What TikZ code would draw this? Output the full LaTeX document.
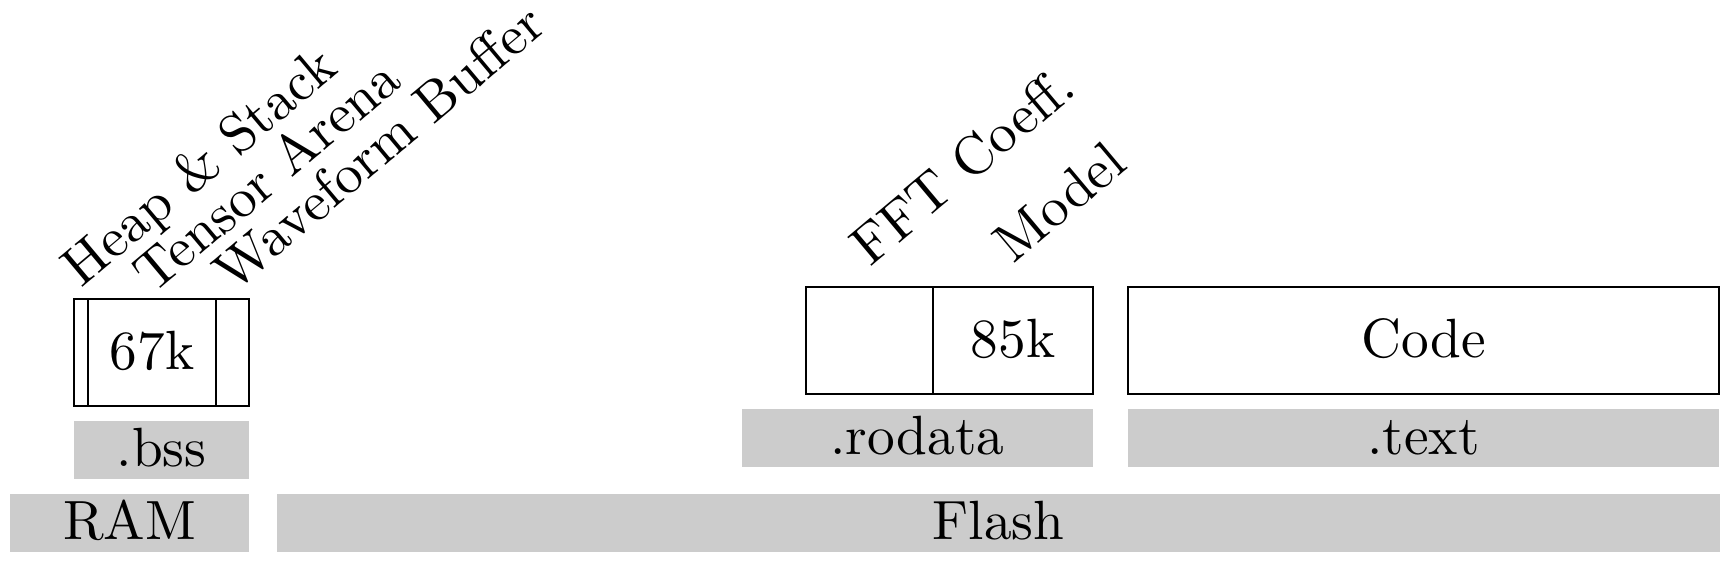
\documentclass[tikz,border=0pt]{standalone}
\begin{document}
\begin{tikzpicture}[x=0.3125pt,y=-0.3125pt,
  graybox/.style={fill=black!20,draw=none,inner sep=0pt,minimum height=18.125pt},
  segbox/.style={draw=black,line width=0.5pt,inner sep=0pt,minimum height=33.44pt},
  txt/.style={anchor=base,inner sep=0pt,scale=1.728},
  lab/.style={rotate=40,anchor=base west,inner sep=0pt,scale=1.728}]
\useasboundingbox (0,0) rectangle (1731,561);
% bottom level
\node[graybox,minimum width=74.69pt] (ram) at (129.5,523) {};
\node[graybox,minimum width=450.9pt] (flash) at (998.5,523) {};
% sections
\node[graybox,minimum width=54.69pt] (bss) at (161.5,450) {};
\node[graybox,minimum width=109.69pt] (rodata) at (917.5,438) {};
\node[graybox,minimum width=184.69pt] (text) at (1423.5,438) {};
% RAM contents
\node[segbox,minimum width=4.375pt] (heap) at (81,352.5) {};
\node[segbox,minimum width=40pt] (tensor) at (152,352.5) {};
\node[segbox,minimum width=10.31pt] (wave) at (232.5,352.5) {};
% Flash contents
\node[segbox,minimum width=39.69pt] (fft) at (869.5,340.5) {};
\node[segbox,minimum width=50pt] (model) at (1013,340.5) {};
\node[segbox,minimum width=184.69pt] (code) at (1423.5,340.5) {};
% texts
\node[txt] (tram) at (129.5,539) {RAM};
\node[txt] (tflash) at (998.5,539) {Flash};
\node[txt] (tbss) at (161.5,466) {.bss};
\node[txt] (trodata) at (917.5,454) {.rodata};
\node[txt] (ttext) at (1423.5,454) {.text};
\node[txt] (ttensor) at (152,369) {67k};
\node[txt] (tmodel) at (1013,357) {85k};
\node[txt] (tcode) at (1423.5,357) {Code};
% labels
\node[lab] (lheap) at (81,289) {Heap \& Stack};
\node[lab] (ltensor) at (153,295) {Tensor Arena};
\node[lab] (lwave) at (233,294) {Waveform Buffer};
\node[lab] (lfft) at (869.5,268) {FFT Coeff.};
\node[lab] (lmodel) at (1013,265) {Model};
\end{tikzpicture}
\end{document}
